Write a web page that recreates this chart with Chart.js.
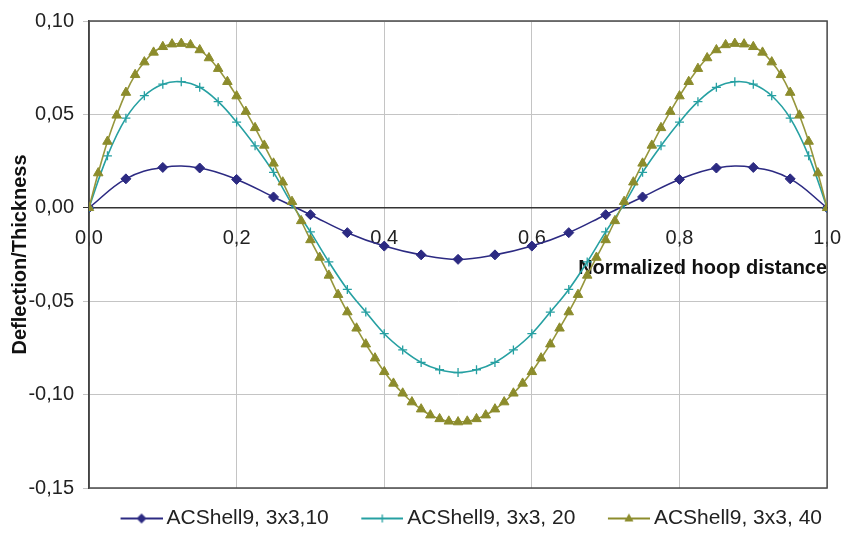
<!DOCTYPE html>
<html>
<head>
<meta charset="utf-8">
<script src="https://cdn.jsdelivr.net/npm/chart.js@4/dist/chart.umd.min.js"></script>
<style>
  html, body { margin: 0; padding: 0; background: #fff; }
  #wrap { width: 844px; height: 535px; }
</style>
</head>
<body>
<div id="wrap"><canvas id="deflectionChart" width="844" height="535"></canvas></div>
<script>
// sample positions along the hoop
const xs10 = [0, 0.05, 0.1, 0.15, 0.2, 0.25, 0.3, 0.35, 0.4, 0.45, 0.5,
    0.55, 0.6, 0.65, 0.7, 0.75, 0.8, 0.85, 0.9, 0.95, 1];
const xs20 = [0, 0.025, 0.05, 0.075, 0.1, 0.125, 0.15, 0.175, 0.2, 0.225, 0.25,
    0.275, 0.3, 0.325, 0.35, 0.375, 0.4, 0.425, 0.45, 0.475, 0.5,
    0.525, 0.55, 0.575, 0.6, 0.625, 0.65, 0.675, 0.7, 0.725, 0.75,
    0.775, 0.8, 0.825, 0.85, 0.875, 0.9, 0.925, 0.95, 0.975, 1];
const xs40 = [0, 0.0125, 0.025, 0.0375, 0.05, 0.0625, 0.075, 0.0875, 0.1, 0.1125,
    0.125, 0.1375, 0.15, 0.1625, 0.175, 0.1875, 0.2, 0.2125, 0.225, 0.2375,
    0.25, 0.2625, 0.275, 0.2875, 0.3, 0.3125, 0.325, 0.3375, 0.35, 0.3625,
    0.375, 0.3875, 0.4, 0.4125, 0.425, 0.4375, 0.45, 0.4625, 0.475, 0.4875,
    0.5, 0.5125, 0.525, 0.5375, 0.55, 0.5625, 0.575, 0.5875, 0.6, 0.6125,
    0.625, 0.6375, 0.65, 0.6625, 0.675, 0.6875, 0.7, 0.7125, 0.725, 0.7375,
    0.75, 0.7625, 0.775, 0.7875, 0.8, 0.8125, 0.825, 0.8375, 0.85, 0.8625,
    0.875, 0.8875, 0.9, 0.9125, 0.925, 0.9375, 0.95, 0.9625, 0.975, 0.9875, 1];

// deflection / thickness values
const shell10 = [0, 0.0155, 0.0216, 0.0213, 0.0152, 0.0058, -0.0037, -0.0133, -0.0205, -0.0252, -0.0276,
    -0.0252, -0.0205, -0.0133, -0.0037, 0.0058, 0.0152, 0.0213, 0.0216, 0.0155, 0];
const shell20 = [0, 0.0278, 0.048, 0.06, 0.0662, 0.0675, 0.0645, 0.0568, 0.0459, 0.0332, 0.019,
    0.002, -0.0129, -0.029, -0.0437, -0.0558, -0.0674, -0.0761, -0.0828, -0.0867, -0.0882,
    -0.0867, -0.0828, -0.0761, -0.0674, -0.0558, -0.0437, -0.029, -0.0129, 0.002, 0.019,
    0.0332, 0.0459, 0.0568, 0.0645, 0.0675, 0.0662, 0.06, 0.048, 0.0278, 0];
const shell40 = [0, 0.0186, 0.0355, 0.0495, 0.0617, 0.0712, 0.078, 0.0832, 0.0862, 0.0876,
    0.0879, 0.0872, 0.0845, 0.0802, 0.0745, 0.0675, 0.0598, 0.0515, 0.0428, 0.0334,
    0.0238, 0.0137, 0.0033, -0.007, -0.0172, -0.0266, -0.0362, -0.0465, -0.0558, -0.0645,
    -0.073, -0.0805, -0.0878, -0.094, -0.0993, -0.104, -0.1078, -0.111, -0.113, -0.1143,
    -0.1147, -0.1143, -0.113, -0.111, -0.1078, -0.104, -0.0993, -0.094, -0.0878, -0.0805,
    -0.073, -0.0645, -0.0558, -0.0465, -0.0362, -0.0266, -0.0172, -0.007, 0.0033, 0.0137,
    0.0238, 0.0334, 0.0428, 0.0515, 0.0598, 0.0675, 0.0745, 0.0802, 0.0845, 0.0872,
    0.0879, 0.0876, 0.0862, 0.0832, 0.078, 0.0712, 0.0617, 0.0495, 0.0355, 0.0186, 0];

const seriesNames = ['ACShell9, 3x3,10', 'ACShell9, 3x3, 20', 'ACShell9, 3x3, 40'];

const FONT = "'Liberation Sans', Arial, sans-serif";
const NAVY = '#2c2a82';
const TEAL = '#26a0a2';
const OLIVE = '#8c8c2c';

function toPoints(xs, ys) {
    return xs.map((x, i) => ({ x: x, y: ys[i] }));
}

function commaNum(v, digits) {
    if (Math.abs(v) < 1e-9) v = 0;
    return v.toFixed(digits).replace('.', ',');
}

// legend sample: short line with the marker in the middle (like Excel)
function makeSwatch(color, style) {
    const c = document.createElement('canvas');
    c.width = 61;
    c.height = 16;
    const g = c.getContext('2d');
    g.strokeStyle = color;
    g.lineWidth = 1.8;
    g.beginPath();
    g.moveTo(19, 8);
    g.lineTo(61, 8);
    g.stroke();
    const cx = 40, cy = 8;
    g.fillStyle = color;
    g.beginPath();
    if (style === 'rectRot') {
        g.moveTo(cx, cy - 5); g.lineTo(cx + 5, cy); g.lineTo(cx, cy + 5); g.lineTo(cx - 5, cy);
        g.closePath(); g.fill();
    } else if (style === 'triangle') {
        g.moveTo(cx, cy - 5); g.lineTo(cx + 4.5, cy + 3); g.lineTo(cx - 4.5, cy + 3);
        g.closePath(); g.fill();
    } else {
        g.lineWidth = 1.3;
        g.moveTo(cx - 4, cy); g.lineTo(cx + 4, cy);
        g.moveTo(cx, cy - 4); g.lineTo(cx, cy + 4);
        g.stroke();
    }
    return c;
}

const swatches = [makeSwatch(NAVY, 'rectRot'), makeSwatch(TEAL, 'cross'), makeSwatch(OLIVE, 'triangle')];

// plot area outline
const plotBorder = {
    id: 'plotBorder',
    beforeDatasetsDraw(chart) {
        const { ctx, chartArea } = chart;
        ctx.save();
        ctx.strokeStyle = '#4a4a4a';
        ctx.lineWidth = 1.5;
        ctx.strokeRect(chartArea.left, chartArea.top, chartArea.right - chartArea.left, chartArea.bottom - chartArea.top);
        ctx.restore();
    }
};

const ctx = document.getElementById('deflectionChart').getContext('2d');
new Chart(ctx, {
    type: 'line',
    data: {
        datasets: [
            {
                label: seriesNames[0],
                data: toPoints(xs10, shell10),
                borderColor: NAVY,
                backgroundColor: NAVY,
                borderWidth: 1.6,
                pointStyle: 'rectRot',
                pointRadius: 5,
                pointBorderWidth: 1,
                tension: 0.4,
                order: 3
            },
            {
                label: seriesNames[1],
                data: toPoints(xs20, shell20),
                borderColor: TEAL,
                backgroundColor: TEAL,
                borderWidth: 1.6,
                pointStyle: 'cross',
                pointRadius: 4.5,
                pointBorderWidth: 1.3,
                tension: 0.4,
                order: 2
            },
            {
                label: seriesNames[2],
                data: toPoints(xs40, shell40),
                borderColor: '#96963c',
                backgroundColor: OLIVE,
                pointBorderColor: OLIVE,
                borderWidth: 1.6,
                pointStyle: 'triangle',
                pointRadius: 5.5,
                pointBorderWidth: 1,
                tension: 0.4,
                order: 1
            }
        ]
    },
    options: {
        responsive: false,
        animation: false,
        layout: { padding: { left: 0, right: 2, top: 19, bottom: -4 } },
        plugins: {
            tooltip: { enabled: false },
            legend: {
                position: 'bottom',
                align: 'end',
                labels: {
                    usePointStyle: true,
                    pointStyleWidth: 48,
                    padding: 20,
                    color: '#222',
                    font: { family: FONT, size: 21 },
                    generateLabels(chart) {
                        const items = Chart.defaults.plugins.legend.labels.generateLabels(chart);
                        items.sort((a, b) => a.datasetIndex - b.datasetIndex);
                        items.forEach(it => { it.pointStyle = swatches[it.datasetIndex]; });
                        return items;
                    }
                }
            }
        },
        scales: {
            x: {
                type: 'linear',
                position: { y: 0 },
                min: 0,
                max: 1,
                border: { color: '#333', width: 1.5 },
                grid: { color: '#c4c4c4', tickLength: 16, tickColor: 'rgba(0,0,0,0)' },
                ticks: {
                    stepSize: 0.2,
                    padding: 3,
                    color: '#222',
                    font: { family: FONT, size: 20 },
                    callback: v => commaNum(v, 1)
                },
                title: {
                    display: true,
                    text: 'Normalized hoop distance',
                    align: 'end',
                    color: '#111',
                    padding: { top: 3, bottom: 0 },
                    font: { family: FONT, size: 20, weight: 'bold' }
                }
            },
            y: {
                min: -0.15,
                max: 0.1,
                border: { color: '#333', width: 1.5 },
                grid: {
                    color: c => (c.tick && Math.abs(c.tick.value) < 1e-9) ? '#333' : '#c4c4c4',
                    tickLength: 6
                },
                ticks: {
                    stepSize: 0.05,
                    padding: 9,
                    color: '#222',
                    font: { family: FONT, size: 20 },
                    callback: v => commaNum(v, 2)
                },
                title: {
                    display: true,
                    text: 'Deflection/Thickness',
                    color: '#111',
                    padding: { top: 8, bottom: 0 },
                    font: { family: FONT, size: 20, weight: 'bold' }
                },
                afterFit(scale) { scale.width = 89; }
            }
        }
    },
    plugins: [plotBorder]
});
</script>
</body>
</html>
